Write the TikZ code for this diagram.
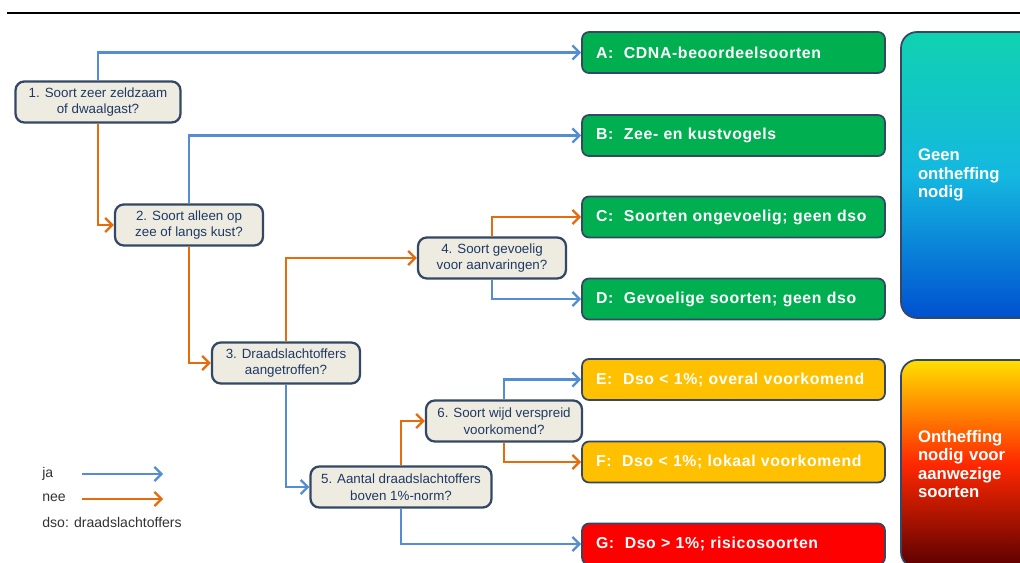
\documentclass[tikz,border=0pt]{standalone}
\usepackage{fontspec}
\setmainfont{Liberation Sans}
\newfontfamily\widefont[LetterSpace=4]{Liberation Sans}
\usetikzlibrary{arrows.meta}
\definecolor{vraagfill}{RGB}{238,236,225}
\definecolor{rand}{RGB}{52,72,102}
\definecolor{vraagtekst}{RGB}{31,56,100}
\definecolor{jablauw}{RGB}{84,141,212}
\definecolor{neeoranje}{RGB}{228,108,10}
\definecolor{groen}{RGB}{0,176,80}
\definecolor{geel}{RGB}{255,192,0}
\definecolor{rood}{RGB}{255,0,0}
\begin{document}
\begin{tikzpicture}[x=0.02cm, y=-0.02cm,
  vraag/.style={draw=rand, line width=1.3pt, fill=vraagfill, rounded corners=5pt, align=center, text=vraagtekst, font=\fontsize{7.6}{9.6}\selectfont, minimum height=0.82cm, inner sep=2pt},
  uitkomst/.style={draw=rand, line width=1pt, rounded corners=4pt, minimum height=0.82cm, text width=5.5cm, inner xsep=0.28cm, align=left, text=white, font=\widefont\bfseries\fontsize{9}{11}\selectfont},
  zijvak/.style={draw=rand, line width=1pt, rounded corners=9pt, text width=2.1cm, inner xsep=0.34cm, align=left, text=white, font=\bfseries\fontsize{9.5}{10.5}\selectfont},
  pijl/.style={-{Straight Barb[length=4pt, width=8pt, line width=1.3pt]}},
  ja/.style={pijl, draw=jablauw, line width=1.2pt},
  nee/.style={pijl, draw=neeoranje, line width=1.5pt},
  legenda/.style={anchor=west, text=black!80, font=\fontsize{8}{9.6}\selectfont, inner sep=0pt}]
  \useasboundingbox (0,0) rectangle (1020,563);
  \clip (0,0) rectangle (1020,563);
  \fill[white] (0,0) rectangle (1020,563);
  % bovenlijn
  \coordinate (lijnL) at (7,13);
  \coordinate (lijnR) at (1020,13);
  \draw[line width=0.8pt] (lijnL) -- (lijnR);
  % vragen
  \node[vraag, minimum width=3.3cm] (q1) at (98,102) {1. Soort zeer zeldzaam\\of dwaalgast?};
  \node[vraag, minimum width=2.96cm] (q2) at (189,225) {2. Soort alleen op\\zee of langs kust?};
  \node[vraag, minimum width=2.96cm] (q3) at (286,363) {3. Draadslachtoffers\\aangetroffen?};
  \node[vraag, minimum width=2.96cm] (q4) at (492,258) {4. Soort gevoelig\\voor aanvaringen?};
  \node[vraag, minimum width=3.62cm] (q5) at (401,487) {5. Aantal draadslachtoffers\\boven 1\%-norm?};
  \node[vraag, minimum width=3.12cm] (q6) at (504,421) {6. Soort wijd verspreid\\voorkomend?};
  % uitkomsten
  \node[uitkomst, fill=groen] (a) at (733.5,52.5) {A: \ CDNA-beoordeelsoorten};
  \node[uitkomst, fill=groen] (b) at (733.5,135.5) {B: \ Zee- en kustvogels};
  \node[uitkomst, fill=groen] (c) at (733.5,217) {C: \ Soorten ongevoelig; geen dso};
  \node[uitkomst, fill=groen] (d) at (733.5,299) {D: \ Gevoelige soorten; geen dso};
  \node[uitkomst, fill=geel] (e) at (733.5,379.5) {E: \ Dso < 1\%; overal voorkomend};
  \node[uitkomst, fill=geel] (f) at (733.5,462) {F: \ Dso < 1\%; lokaal voorkomend};
  \node[uitkomst, fill=rood] (g) at (733.5,544) {G: \ Dso > 1\%; risicosoorten};
  % zijvakken
  \node[zijvak, minimum height=5.72cm, top color={rgb,255:red,16;green,210;blue,176}, bottom color={rgb,255:red,0;green,80;blue,208}, middle color={rgb,255:red,20;green,184;blue,224}] (geen) at (970.5,175) {Geen\\ontheffing\\nodig};
  \node[zijvak, minimum height=4.16cm, top color={rgb,255:red,255;green,224;blue,0}, bottom color={rgb,255:red,90;green,0;blue,0}, middle color={rgb,255:red,255;green,40;blue,0}] (wel) at (970.5,464) {Ontheffing\\nodig voor\\aanwezige\\soorten};
  % verbindingen
  \draw[ja] (q1.north) |- (a.west);
  \draw[nee] (q1.south) |- (q2.west);
  \draw[ja] (q2.north) |- (b.west);
  \draw[nee] (q2.south) |- (q3.west);
  \draw[nee] (q3.north) |- (q4.west);
  \draw[ja] (q3.south) |- (q5.west);
  \draw[nee] (q4.north) |- (c.west);
  \draw[ja] (q4.south) |- (d.west);
  \draw[nee] (q5.north) |- (q6.west);
  \draw[ja] (q5.south) |- (g.west);
  \draw[ja] (q6.north) |- (e.west);
  \draw[nee] (q6.south) |- (f.west);
  % legenda
  \node[legenda] (jatekst) at (42,474) {ja};
  \node[legenda] (neetekst) at (42,498) {nee};
  \node[legenda] (dsotekst) at (42,522) {dso: draadslachtoffers};
  \coordinate (ja1) at (82,474);
  \coordinate (ja2) at (163,474);
  \coordinate (nee1) at (82,499);
  \coordinate (nee2) at (163,499);
  \draw[ja] (ja1) -- (ja2);
  \draw[nee] (nee1) -- (nee2);
\end{tikzpicture}
\end{document}
